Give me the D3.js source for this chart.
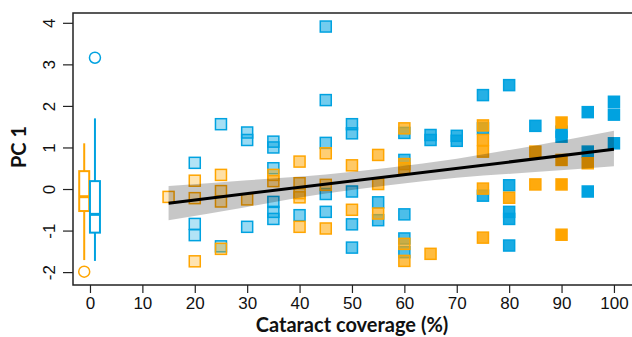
<!DOCTYPE html>
<html><head><meta charset="utf-8">
<script src="https://cdn.jsdelivr.net/npm/d3@7/dist/d3.min.js"></script>
<style>
html,body{margin:0;padding:0;background:#fff;}
svg{display:block;}
</style></head>
<body>
<svg id="chart" width="632" height="337"></svg>
<script>
// ---- data ----
const xTicks = [0,10,20,30,40,50,60,70,80,90,100];
const yTicks = [-2,-1,0,1,2,3,4];

const blueX = [20,20,20, 25,25, 30,30,30, 35,35,35,35,35,35, 40,
  45,45,45,45,45, 50,50,50,50,50, 55,55, 60,60,60,60,60, 65,65, 70,70,
  75,75,75, 80,80,80,80,80, 85, 90,90, 95,95,95, 100,100,100];
const blueY = [0.63,-0.84,-1.11, 1.56,-1.38, 1.36,1.18,-0.91, 1.14,1.0,0.5,-0.31,-0.55,-0.72, -0.63,
  3.91,2.14,1.11,-0.12,-0.55, 1.56,1.34,-0.06,-0.85,-1.41, -0.32,-0.75, 1.35,0.7,-0.61,-1.19,-1.52, 1.3,1.18, 1.28,1.16,
  2.26,1.46,-0.16, 2.5,0.09,-0.55,-0.72,-1.36, 1.52, 1.38,1.26, 1.85,0.9,-0.06, 2.1,1.79,1.1];

const orangeX = [15, 20,20,20, 25,25,25,25, 30, 35,35, 40,40,40,40,40,
  45,45,45, 50,50, 55,55,55, 60,60,60,60,60, 65, 75,75,75,75,75, 80, 85,85, 90,90,90,90, 95];
const orangeY = [-0.19, 0.2,-0.22,-1.74, 0.34,-0.05,-0.3,-1.44, -0.25, 0.34,0.19, 0.66,0.14,-0.1,-0.2,-0.91,
  0.86,0.1,-0.95, 0.57,-0.5, 0.82,0.12,-0.59, 1.46,0.6,0.5,-1.32,-1.73, -1.56, 1.53,1.18,0.9,0.01,-1.17, -0.21, 0.9,0.11, 1.6,0.7,0.11,-1.1, 0.62];

// boxplots at coverage 0 (orange, blue)
const boxX = [-1.1, 0.95];
const boxLo = [-1.71, -1.73];
const boxQ1 = [-0.53, -1.05];
const boxMed = [-0.185, -0.61];
const boxQ3 = [0.43, 0.19];
const boxHi = [1.1, 1.70];
const boxOut = [-1.99, 3.16];

// regression line and confidence band
const fitX = [15, 100];
const fitY = [-0.34, 0.955];
const bandX = [15, 30, 45, 57, 70, 85, 100];
const bandLo = [-0.75, -0.43, -0.11, 0.09, 0.27, 0.41, 0.55];
const bandHi = [0.07, 0.21, 0.35, 0.51, 0.73, 1.05, 1.40];

// ---- drawing ----
const ORANGE = "#ffa500", BLUE = "#00a2e0";
const svg = d3.select("#chart");
const L = 73, R = 637, T = 13, B = 285;
const x = d3.scaleLinear().domain([-3.24, 104.4]).range([L, R]);
const y = d3.scaleLinear().domain([-2.31, 4.236]).range([B, T]);
const alpha = d3.scaleLinear().domain([15, 90]).range([0.25, 1]).clamp(true);

const plot = svg.append("g");
const S = 11;
function drawPts(xs, ys, col) {
  plot.append("g").selectAll("rect").data(xs.map((v,i)=>[v, ys[i]])).join("rect")
    .attr("x", d => x(d[0]) - S/2).attr("y", d => y(d[1]) - S/2)
    .attr("width", S).attr("height", S)
    .attr("fill", col).attr("fill-opacity", d => alpha(d[0]))
    .attr("stroke", col).attr("stroke-width", 1.5);
}
drawPts(blueX, blueY, BLUE);
drawPts(orangeX, orangeY, ORANGE);

// band
const area = d3.area().x((d,i)=>x(bandX[i])).y0((d,i)=>y(bandLo[i])).y1((d,i)=>y(bandHi[i])).curve(d3.curveMonotoneX);
plot.append("path").attr("d", area(bandX)).attr("fill", "rgba(0,0,0,0.22)");
// fit line
plot.append("path").attr("d", d3.line()(fitX.map((v,i)=>[x(v), y(fitY[i])])))
  .attr("stroke", "#000").attr("stroke-width", 3).attr("fill", "none");

// boxplots
const cols = [ORANGE, BLUE];
const bw = 10;
boxX.forEach((bx, i) => {
  const g = svg.append("g").attr("stroke", cols[i]).attr("stroke-width", 2).attr("fill", "none");
  const cx = x(bx);
  g.append("line").attr("x1", cx).attr("x2", cx).attr("y1", y(boxHi[i])).attr("y2", y(boxQ3[i]));
  g.append("line").attr("x1", cx).attr("x2", cx).attr("y1", y(boxQ1[i])).attr("y2", y(boxLo[i]));
  g.append("rect").attr("x", cx - bw/2).attr("y", y(boxQ3[i])).attr("width", bw)
    .attr("height", y(boxQ1[i]) - y(boxQ3[i])).attr("fill", "#fff");
  g.append("line").attr("x1", cx - bw/2).attr("x2", cx + bw/2).attr("y1", y(boxMed[i])).attr("y2", y(boxMed[i])).attr("stroke-width", 3);
  g.append("circle").attr("cx", cx).attr("cy", y(boxOut[i])).attr("r", 5.5).attr("stroke-width", 1.5);
});

// frame
svg.append("rect").attr("x", L).attr("y", T).attr("width", R - L).attr("height", B - T)
  .attr("fill", "none").attr("stroke", "#222").attr("stroke-width", 1.5);

const FONT = "'Liberation Sans', Arial, sans-serif";
const fmt = d => String(d);
// x axis
const xa = svg.append("g").attr("transform", `translate(0,${B})`)
  .call(d3.axisBottom(x).tickValues(xTicks).tickFormat(fmt).tickSize(8).tickSizeOuter(0).tickPadding(4));
xa.select(".domain").remove();
xa.attr("font-family", FONT).attr("font-size", 17);
xa.selectAll("line").attr("stroke", "#222").attr("stroke-width", 1.2);
xa.selectAll("text").attr("fill", "#111");

// y axis
const ya = svg.append("g").attr("transform", `translate(${L},0)`)
  .call(d3.axisLeft(y).tickValues(yTicks).tickFormat(fmt).tickSize(10).tickSizeOuter(0));
ya.select(".domain").remove();
ya.attr("font-family", FONT).attr("font-size", 17);
ya.selectAll("line").attr("stroke", "#222").attr("stroke-width", 1.2);
ya.selectAll("text").attr("fill", "#111")
  .attr("x", null).attr("text-anchor", "middle").attr("dy", "0.35em")
  .attr("transform", "translate(-24,0) rotate(-90)");

// titles
svg.append("text").attr("x", 352).attr("y", 332).attr("text-anchor", "middle")
  .attr("font-family", "Lato, sans-serif").attr("font-weight", "bold").attr("font-size", 20).attr("fill", "#111")
  .text("Cataract coverage (%)");
svg.append("text").attr("transform", "translate(26,147) rotate(-90)").attr("text-anchor", "middle")
  .attr("font-family", "Lato, sans-serif").attr("font-weight", "bold").attr("font-size", 20).attr("fill", "#111")
  .text("PC 1");
</script>
</body></html>
